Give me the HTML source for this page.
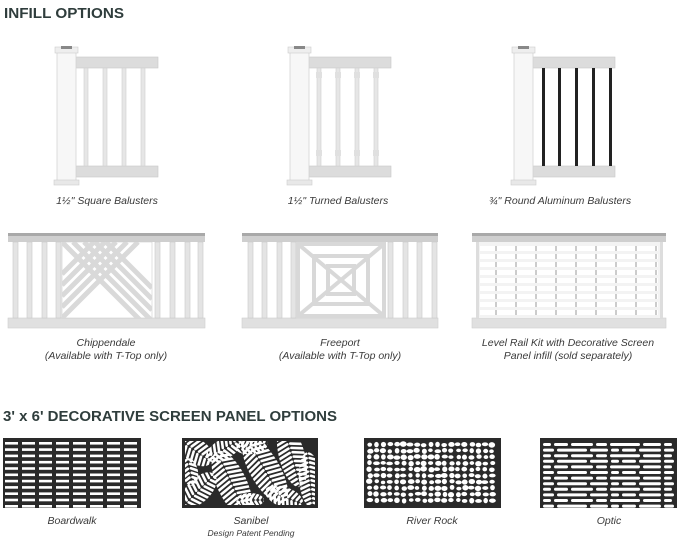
<!DOCTYPE html><html><head><meta charset="utf-8"><style>
html,body{margin:0;padding:0;background:#fff;width:685px;height:542px;overflow:hidden}
svg{display:block}
.h{font:bold 14.5px "Liberation Sans",sans-serif;fill:#2f3d3c}
.c{font:italic 10.5px "Liberation Sans",sans-serif;fill:#3a3a3a;text-anchor:middle}
</style></head><body>
<svg id="s" width="685" height="542" viewBox="0 0 685 542">
<text class="h" x="4" y="18" textLength="120" lengthAdjust="spacingAndGlyphs">INFILL OPTIONS</text>
<text class="h" x="3" y="421" textLength="334" lengthAdjust="spacingAndGlyphs">3' x 6' DECORATIVE SCREEN PANEL OPTIONS</text>
<g id="g"></g>
<text class="c" x="107" y="204">1½" Square Balusters</text>
<text class="c" x="338" y="204">1½" Turned Balusters</text>
<text class="c" x="560" y="204">¾" Round Aluminum Balusters</text>
<text class="c" x="106" y="346">Chippendale</text>
<text class="c" x="106" y="359">(Available with T-Top only)</text>
<text class="c" x="340" y="346">Freeport</text>
<text class="c" x="340" y="359">(Available with T-Top only)</text>
<text class="c" x="568" y="346">Level Rail Kit with Decorative Screen</text>
<text class="c" x="568" y="359">Panel infill (sold separately)</text>
<text class="c" x="72" y="524">Boardwalk</text>
<text class="c" x="251" y="524">Sanibel</text>
<text class="c" x="251" y="536" style="font-size:8.5px">Design Patent Pending</text>
<text class="c" x="432" y="524">River Rock</text>
<text class="c" x="609" y="524">Optic</text>
</svg>
<script>
var g=document.getElementById('g'),h='';
function r(x,y,w,hh,f,extra){h+='<rect x="'+x+'" y="'+y+'" width="'+w+'" height="'+hh+'" fill="'+f+'" '+(extra||'')+'/>';}
var S='#dcdcdc',E='#c8c8c8';
[[55,0],[288,1],[512,2]].forEach(function(p){
 var x=p[0];
 r(x+19,57,84,11,S,'stroke="'+E+'" stroke-width="0.6"');
 r(x+19,166,84,11,S,'stroke="'+E+'" stroke-width="0.6"');
 var bx=p[1]==2?[30,46,63,80,97]:[29,48,67,86];
 bx.forEach(function(b){
  if(p[1]==2) r(x+b,68,3,98,'#222');
  else { r(x+b,68,4,98,'#e6e6e6','stroke="#cfcfcf" stroke-width="0.6"'); if(p[1]==1){r(x+b-1,72,6,6,'#e0e0e0');r(x+b-1,150,6,6,'#e0e0e0');} }
 });
 r(x+2,50,19,133,'#f7f7f7','stroke="#d4d4d4" stroke-width="0.8"');
 r(x,47,23,6,'#eee','stroke="#ccc" stroke-width="0.6"');
 r(x+6,46,11,3,'#888');
 r(x-1,180,25,5,'#e8e8e8','stroke="#ccc" stroke-width="0.6"');
});
function frame(x,w){
 r(x,233,w,9,'#cfcfcf');r(x,233,w,3,'#a9a9a9');
 r(x,318,w,10,'#e0e0e0','stroke="#cfcfcf" stroke-width="0.6"');
}
function bal(x){r(x,242,5,76,'#e4e4e4','stroke="#c9c9c9" stroke-width="0.6"');}
frame(8,197);[13,27,42,56].forEach(bal);[155,170,185,198].forEach(bal);
r(62,242,90,76,'#fff','stroke="#ccc" stroke-width="0.6"');
h+='<clipPath id="c1"><rect x="62" y="242" width="90" height="76"/></clipPath><g stroke="#d9d9d9" stroke-width="5" clip-path="url(#c1)">';
for(var i=0;i<5;i++){var o=i*11;h+='<line x1="'+(62+o)+'" y1="242" x2="152" y2="'+(332-o)+'"/>';}
for(var i=0;i<5;i++){var o=i*11;h+='<line x1="62" y1="'+(318-o)+'" x2="'+(138-o)+'" y2="242"/>';}
h+='</g>';
frame(242,196);[248,262,277,291].forEach(bal);[388,403,417,432].forEach(bal);
h+='<g fill="none" stroke="#d8d8d8" stroke-width="4"><rect x="298" y="244" width="86" height="72"/><rect x="314" y="256" width="54" height="48"/><rect x="328" y="266" width="26" height="28"/><line x1="298" y1="244" x2="384" y2="316"/><line x1="384" y1="244" x2="298" y2="316"/></g>';
frame(472,194);
r(477,242,184,76,'#f3f3f3');
for(var y=246;y<316;y+=8){r(480,y,178,5,'#fff');}
for(var y=246;y<316;y+=8)for(var xx=495;xx<660;xx+=20)r(xx,y,2,5,'#ccc');
r(476,242,3,76,'#ddd');r(660,242,3,76,'#ddd');
var K='#2a2a2a';
r(3,438,138,70,K);
for(var y=442;y<506;y+=6.3)for(var c=0;c<8;c++)r(5+c*17,y,13,2.6,'#fff');
r(182,438,136,70,K);
h+='<clipPath id="c2"><rect x="185" y="441" width="130" height="64"/></clipPath><g clip-path="url(#c2)">';
var leaves=[[197,452,18,12,35],[224,449,20,10,-30],[232,484,36,15,65],[265,470,38,15,60],[292,456,32,13,75],[310,480,28,11,85],[199,490,22,12,-45],[284,497,20,10,20],[252,446,16,8,-10],[190,472,14,8,80],[250,500,14,7,0]];
leaves.forEach(function(L,i){
 var cx=L[0],cy=L[1],rx=L[2],ry=L[3],a=L[4];
 h+='<clipPath id="l'+i+'"><ellipse cx="'+cx+'" cy="'+cy+'" rx="'+rx+'" ry="'+ry+'" transform="rotate('+a+' '+cx+' '+cy+')"/></clipPath>';
 h+='<g clip-path="url(#l'+i+')"><g transform="rotate('+a+' '+cx+' '+cy+')" stroke="#fff" stroke-width="2.6" stroke-linecap="round">';
 for(var k=-rx;k<=rx;k+=4.5){
  h+='<line x1="'+(cx+k+1.5)+'" y1="'+(cy-1.5)+'" x2="'+(cx+k+5)+'" y2="'+(cy-ry)+'"/>';
  h+='<line x1="'+(cx+k+1.5)+'" y1="'+(cy+1.5)+'" x2="'+(cx+k+5)+'" y2="'+(cy+ry)+'"/>';
 }
 h+='</g></g>';
});
h+='</g>';
r(364,438,137,70,K);
var seed=7;function rnd(){seed=(seed*9301+49297)%233280;return seed/233280;}
for(var y=444;y<505;y+=6.2)for(var x=369;x<498;x+=6.8){h+='<ellipse cx="'+(x+rnd()*1.5)+'" cy="'+(y+rnd()*1.2)+'" rx="'+(2.2+rnd()*1.3)+'" ry="'+(1.8+rnd()*1)+'" fill="#fff"/>';}
r(540,438,137,70,K);
var yy=443,row=0;
while(yy<505){var x=543;var sd=row*3;while(x<674){var w=[8,14,22,11,30,18][(sd++)%6];if(x+w>674)w=674-x;r(x,yy,w,3,'#fff','rx="1.5"');x+=w+3;}yy+=5.6;row++;}
g.innerHTML=h;
</script>
</body></html>
